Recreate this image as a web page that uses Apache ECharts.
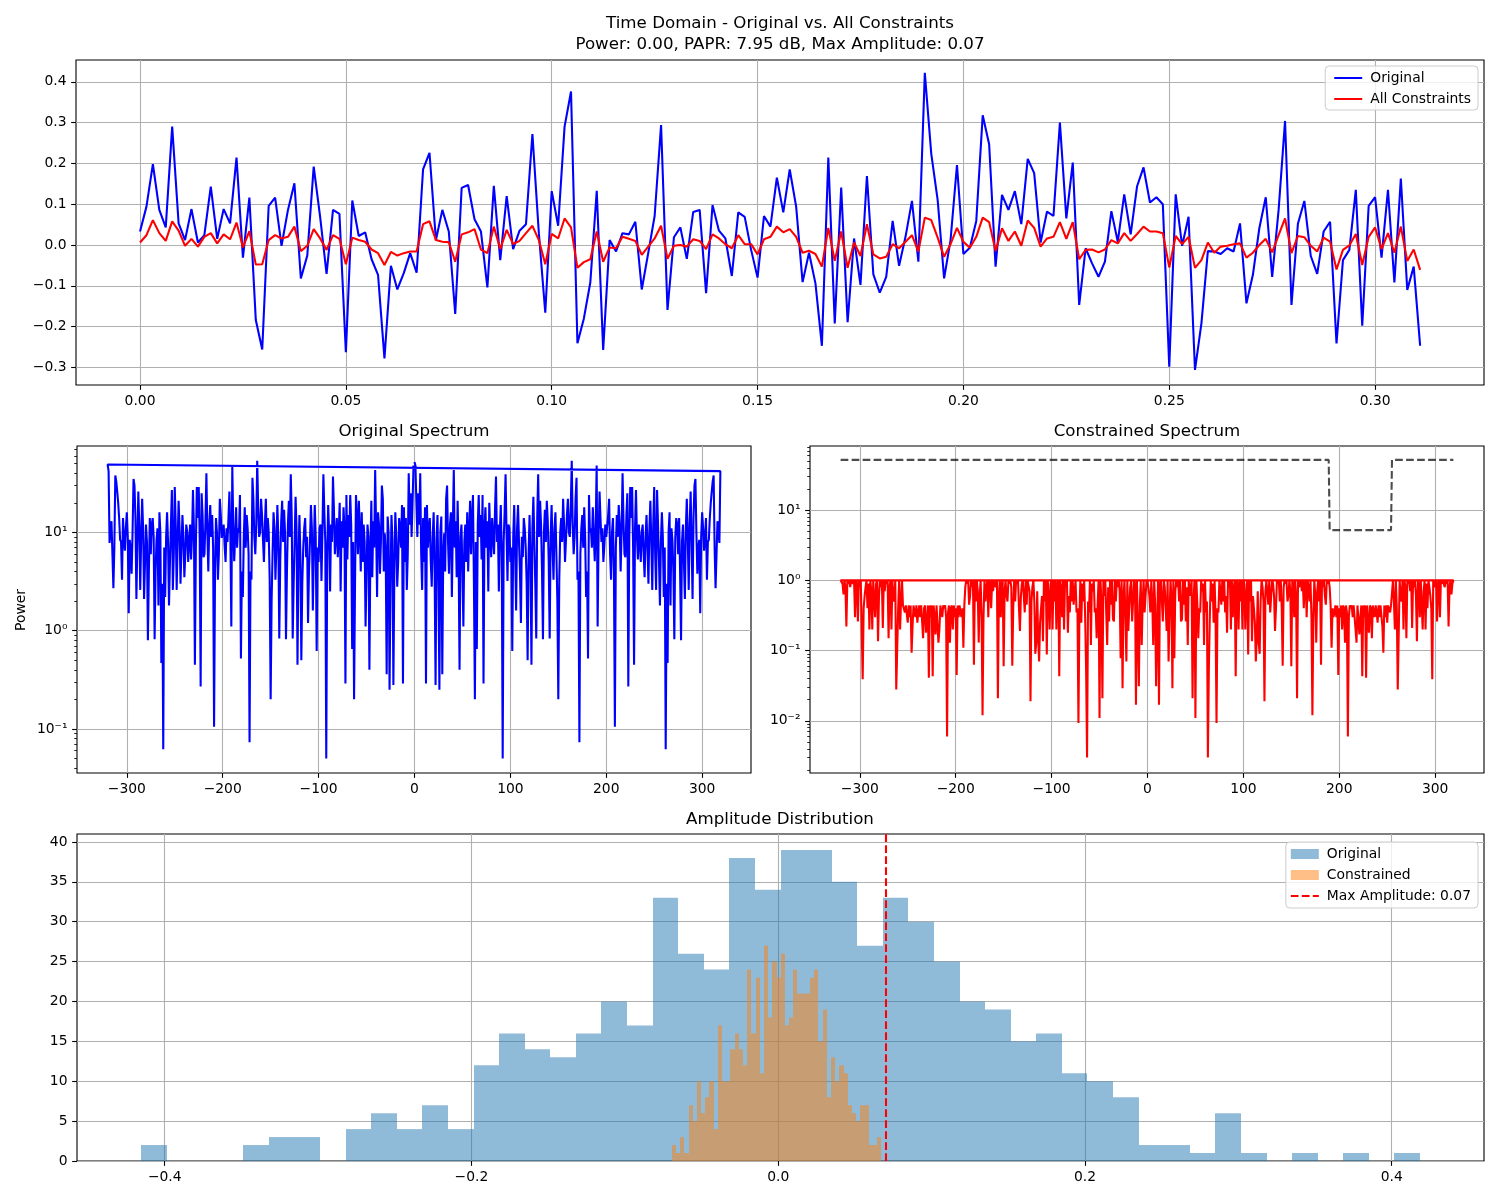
<!DOCTYPE html>
<html><head><meta charset="utf-8">
<script src="https://cdn.jsdelivr.net/npm/echarts@6/dist/echarts.min.js"></script>
<style>html,body{margin:0;padding:0;background:#fff}#c{width:1500px;height:1200px}</style>
</head><body><div id="c"></div>
<script>
// ---------------- data ----------------
const SAMPLE_RATE = 640;
const timeOriginal = [
0.033,0.094,0.198,0.086,0.043,0.290,0.053,0.012,0.088,0.006,
0.024,0.143,0.015,0.088,0.053,0.214,-0.031,0.116,-0.184,-0.256,
0.096,0.116,-0.002,0.086,0.151,-0.082,-0.026,0.192,0.069,-0.071,
0.086,0.076,-0.263,0.109,0.022,0.031,-0.035,-0.073,-0.278,-0.051,
-0.109,-0.069,-0.020,-0.068,0.185,0.226,0.012,0.086,0.033,-0.169,
0.140,0.147,0.063,0.033,-0.104,0.145,-0.037,0.120,-0.010,0.035,
0.051,0.272,0.029,-0.166,0.132,0.047,0.290,0.376,-0.241,-0.180,
-0.092,0.133,-0.257,0.012,-0.016,0.029,0.026,0.057,-0.109,-0.020,
0.071,0.294,-0.159,0.019,0.043,-0.034,0.081,0.086,-0.118,0.098,
0.035,0.016,-0.076,0.080,0.069,-0.012,-0.080,0.071,0.045,0.165,
0.080,0.185,0.094,-0.091,-0.019,-0.094,-0.247,0.214,-0.192,0.141,
-0.189,0.016,-0.098,0.169,-0.072,-0.117,-0.078,0.059,-0.051,0.020,
0.108,-0.041,0.422,0.224,0.110,-0.082,0.012,0.196,-0.022,-0.007,
0.059,0.318,0.247,-0.053,0.123,0.086,0.132,0.051,0.211,0.176,
0.006,0.082,0.071,0.300,0.065,0.202,-0.147,-0.008,-0.045,-0.078,
-0.041,0.083,0.008,0.124,0.026,0.144,0.190,0.104,0.117,0.100,
-0.298,0.124,-0.002,0.069,-0.306,-0.192,-0.015,-0.016,-0.022,-0.008,
-0.016,0.053,-0.143,-0.073,0.041,0.117,-0.078,0.086,0.304,-0.147,
0.052,0.108,-0.027,-0.071,0.033,0.057,-0.241,-0.037,-0.012,0.135,
-0.198,0.096,0.117,-0.031,0.135,-0.092,0.163,-0.110,-0.053,-0.247];
const timeConstrained = [
0.006,0.024,0.061,0.029,0.010,0.058,0.035,-0.002,0.015,-0.004,
0.020,0.029,0.004,0.026,0.014,0.055,-0.006,0.034,-0.048,-0.047,
0.012,0.024,0.016,0.020,0.045,-0.015,-0.002,0.039,0.016,-0.012,
0.024,0.015,-0.047,0.018,0.012,0.008,-0.011,-0.020,-0.049,-0.017,
-0.026,-0.020,-0.016,-0.016,0.051,0.058,0.012,0.008,0.007,-0.041,
0.026,0.031,0.039,-0.011,-0.020,0.045,-0.010,0.037,0.002,0.010,
0.029,0.047,0.012,-0.047,0.027,0.016,0.065,0.043,-0.056,-0.042,
-0.035,0.033,-0.041,-0.006,-0.008,0.020,0.015,0.010,-0.024,-0.004,
0.016,0.047,-0.034,-0.002,0.000,-0.004,0.014,0.010,-0.010,0.026,
0.016,0.002,-0.008,0.024,0.002,0.002,-0.023,0.014,0.020,0.045,
0.031,0.039,0.020,-0.019,-0.014,-0.022,-0.053,0.042,-0.039,0.033,
-0.056,0.006,-0.027,0.051,-0.023,-0.033,-0.029,0.002,-0.008,0.008,
0.024,-0.016,0.067,0.061,0.018,-0.029,0.002,0.042,0.008,-0.007,
0.020,0.067,0.056,-0.015,0.041,0.010,0.033,-0.002,0.060,0.042,
-0.004,0.016,0.020,0.056,0.015,0.056,-0.035,-0.012,-0.011,-0.018,
-0.011,0.012,0.004,0.029,0.010,0.027,0.045,0.033,0.033,0.029,
-0.055,0.022,0.002,0.020,-0.056,-0.037,0.006,-0.019,-0.004,-0.002,
0.002,0.004,-0.031,-0.019,0.000,0.015,-0.018,0.024,0.065,-0.020,
0.022,0.019,-0.002,-0.016,0.018,0.008,-0.060,-0.012,-0.001,0.027,
-0.049,0.020,0.043,-0.010,0.029,-0.019,0.045,-0.039,-0.011,-0.061];
const timeTicks = [0, 0.05, 0.1, 0.15, 0.2, 0.25, 0.3];
const ampTicks = [-0.3, -0.2, -0.1, 0, 0.1, 0.2, 0.3, 0.4];

// power spectrum, bins k = 0..320 (spectrum of a real signal: P(-k) = P(k))
const specOriginalHalf = [
52,48,20,9,25,12,40,6,2.6,14,
5,18,0.29,19,7,11,14,5,2.8,9,
16,4,0.28,8.4,15,3,0.25,10,14.5,0.36,
6,9.8,4,22,30,8,3.8,12,16,2.2,
11,43,7,13,3.5,21,6,0.4,9,12,
4,1.1,8,12,5,16,4,10,21,6,
14,24,3,0.2,8,0.65,12,24,9,15,
5.3,24,0.29,11,18,7,13,2.5,20,10,
5.6,14,9,6,17,37,8,12,2.5,10,
19,6,0.05,8,16,39,10,3.2,12,11,
5,7,0.62,9,19,6,1.6,11,19,8,
4,1.2,9,5.6,14,11,7,3,0.5,6,
15,5,0.45,11,23,8,3,0.83,14,39,
9,21,12,4,0.82,10,17,8,21,13,
5,0.83,9,19,7,3.3,11,16,6,2,
0.2,3.3,10,14,8,22,12,5,8.4,15,
22,10,9,18,53.5,12,6,9,22,36,
3.3,4,0.073,6,11,15,7,18,9,2.2,
4,0.52,24,10,11,7,18,9,5.1,12,
48,1.1,9,26,14,8,11,5,7.3,12,
9,8.8,15,22,6,3.3,10,14,4,0.105,
7,15,9,19,12,4,10,40,13,6,
5.6,15,25,0.27,9,29,14,29,7,0.45,
11,27,9,5.3,12,8,5,10,12,6,
3.5,9,15,7,3,11,21,8,2.6,12,
29,6,2.6,27,12,5,1.8,8,16,9,
2.2,7,0.062,3,0.47,10,16,1.8,11,8.4,
4,0.82,9,14,12,6,14,4,0.8,8,
12,5,2.1,11,22,9,2.6,12,26,8,
2.1,14,30,35,10,3.8,7,8.4,1.5,9,
16,11,6.5,9,14,3.3,8,8.4,14,20,
26,33,38,7,2.7,6,13,10,7.8,42,
49];
const specConstrainedHalf = [
1,1,0.6,0.35,1,0.5,0.12,1,0.45,0.031,
0.2,1,0.017,0.9,1,0.5,0.26,1,0.8,0.4,
0.19,1,0.07,0.3,1,0.6,0.029,1,0.078,0.7,
1,0.8,1,0.5,1,0.26,0.28,1,0.45,1,
0.26,0.8,0.12,1,1,0.6,1,0.021,0.5,1,
0.011,1,0.45,0.15,0.4,0.35,1,0.7,0.9,0.12,
1,0.35,0.5,0.003,0.054,0.3,1,0.5,0.9,0.25,
1,0.3,0.0093,0.4,0.35,1,0.7,0.45,1,0.5,
1,0.35,0.6,0.18,1,0.8,1,0.2,1,0.3,
0.8,1,0.043,1,0.9,0.2,1,0.5,1,0.2,
1,0.9,0.2,0.6,1,0.088,1,0.5,1,0.136,
0.6,0.4,0.25,0.07,0.15,0.7,0.13,0.09,0.5,1,
0.8,0.5,0.019,0.7,1,1,0.45,1,0.35,0.6,
1,0.9,0.6,0.19,0.4,1,0.9,1,0.5,1,
0.4,0.061,0.8,1,0.9,1,0.5,0.6,1,0.7,
0.06,1,0.9,0.3,1,0.6,0.021,1,0.8,0.9,
1,0.7,1,0.4,0.9,1,0.3,1,0.8,0.5,
1,0.3,0.012,0.3,1,0.6,0.13,0.7,1,0.5,
1,0.063,1,0.8,1,0.6,0.45,1,0.9,1,
0.8,0.44,0.11,0.4,0.3,0.35,0.44,0.3,0.44,0.045,
0.4,0.3,0.44,0.2,0.44,0.4,0.13,0.44,0.35,0.006,
0.3,0.44,0.4,0.44,0.3,0.44,0.44,0.2,0.13,0.44,
0.44,0.17,0.3,0.44,0.043,0.44,0.3,0.44,0.041,0.44,
0.25,0.18,0.44,0.4,0.15,0.44,0.44,0.3,0.44,0.35,
0.25,0.44,0.3,0.44,0.44,0.22,0.093,0.44,0.3,0.44,
0.25,0.44,0.44,0.35,0.44,0.44,1,0.5,0.2,1,
0.4,0.028,0.028,1,0.6,0.5,1,0.2,1,0.8,
0.15,1,0.9,1,0.7,1,0.21,1,0.8,1,
0.6,0.136,1,0.9,0.3,1,1,0.2,0.7,1,
0.2,0.9,0.4,1,0.8,0.6,0.4,0.039,1,1,
0.8,1,0.26,0.9,1,0.3,1,0.9,1,1,
0.8,1,0.9,1,0.22,0.8,1,0.63,0.9,1,
1];
const maskFreq  = [-320, 189, 190, 254, 255, 319];
const maskLevel = [52, 52, 5.2, 5.2, 52, 52];
const freqTicks = [-300, -200, -100, 0, 100, 200, 300];
const logTicksLeft = [0.1, 1, 10];
const logTicksRight = [0.01, 0.1, 1, 10];
const minorTicksLeft = [0.04,0.05,0.06,0.07,0.08,0.09,0.2,0.3,0.4,0.5,0.6,0.7,0.8,0.9,2,3,4,5,6,7,8,9,20,30,40,50,60,70];
const minorTicksRight = [0.002,0.003,0.004,0.005,0.006,0.007,0.008,0.009,0.02,0.03,0.04,0.05,0.06,0.07,0.08,0.09,0.2,0.3,0.4,0.5,0.6,0.7,0.8,0.9,2,3,4,5,6,7,8,9,20,30,40,50,60,70,80];

// amplitude histograms (50 bins each)
const histOriginalRange = [-0.4155, 0.4185];
const histOriginalCounts = [2,0,0,0,2,3,3,0,4,6,4,7,4,12,16,14,13,16,20,17,33,26,24,38,34,39,39,35,27,33,30,25,20,19,15,16,11,10,8,2,2,1,6,1,0,1,0,1,0,1];
const histConstrainedRange = [-0.0694, 0.0672];
const histConstrainedCounts = [2,1,3,1,7,5,10,6,8,10,4,17,10,10,14,16,14,12,24,16,23,11,27,18,25,23,26,17,18,24,21,21,21,23,24,15,19,8,13,10,12,11,7,6,5,7,7,2,2,3];
const maxAmplitude = 0.0714;
const histXTicks = [-0.4, -0.2, 0, 0.2, 0.4];
const histYTicks = [0, 5, 10, 15, 20, 25, 30, 35, 40];

// ---------------- helpers ----------------
const FONT = 'DejaVu Sans';
const FS = 13.89, TFS = 16.67;
const LW = 2.08;
const DASH = [7.7, 3.3];
const neg = s => s.replace('-', '\u2212');
const supMap = {'-':'\u207B','0':'\u2070','1':'\u00B9','2':'\u00B2','3':'\u00B3'};
const logFmt = v => '10' + String(Math.round(Math.log10(v))).split('').map(c => supMap[c]).join('');

function fftOrder(half) {
  const out = [];
  for (let k = 0; k < 320; k++) out.push([k, half[k]]);
  for (let k = -320; k < 0; k++) out.push([k, half[-k]]);
  return out;
}
function histBins(counts, range) {
  const w = (range[1] - range[0]) / counts.length;
  return counts.map((c, i) => [range[0] + i * w, range[0] + (i + 1) * w, c]);
}
function axis(gridIndex, type, min, max, ticks, fmt) {
  const a = {
    gridIndex, type, min, max,
    axisLine: {show: false, onZero: false},
    axisTick: {show: true, length: 4.86, lineStyle: {color: '#000', width: 1.1}, customValues: ticks},
    axisLabel: {show: true, customValues: ticks, formatter: fmt, color: '#000',
      fontFamily: FONT, fontSize: FS, margin: 9.5, hideOverlap: false},
    splitLine: {show: true, lineStyle: {color: '#b0b0b0', width: 1.1}},
    minorTick: {show: false}, minorSplitLine: {show: false}
  };
  if (type === 'log') a.logBase = 10;
  return a;
}
function minorAxis(gridIndex, min, max, ticks) {
  return {gridIndex, type: 'log', logBase: 10, min, max, position: 'left',
    axisLine: {show: false, onZero: false}, axisLabel: {show: false},
    splitLine: {show: false},
    axisTick: {show: true, length: 2.78, lineStyle: {color: '#000', width: 0.83}, customValues: ticks}};
}
function histRender(color) {
  return function (params, api) {
    const a = api.coord([api.value(0), 0]);
    const b = api.coord([api.value(1), api.value(2)]);
    const x0 = Math.round(a[0]), x1 = Math.round(b[0]);
    return {type: 'rect', shape: {x: x0, y: b[1], width: x1 - x0, height: a[1] - b[1]},
      style: {fill: color}};
  };
}
const gridBox = {show: true, borderColor: '#000', borderWidth: 1.1, backgroundColor: 'transparent'};
const textEl = (x, y, text, size, rot) => ({type: 'text', x, y, rotation: rot || 0, silent: true,
  style: {text, fill: '#000', font: size + 'px "' + FONT + '"', align: 'center', verticalAlign: 'middle',
    textAlign: 'center', textVerticalAlign: 'middle'}});

const HBLUE = 'rgba(31,119,180,0.5)';
const HORANGE = 'rgba(255,127,14,0.5)';
const noSymbol = {opacity: 0};

const option = {
  animation: false,
  backgroundColor: '#fff',
  textStyle: {fontFamily: FONT},
  grid: [
    Object.assign({left: 76, right: 16, top: 60, height: 325}, gridBox),
    Object.assign({left: 77, width: 674, top: 446, height: 327}, gridBox),
    Object.assign({left: 810, width: 674, top: 446, height: 327}, gridBox),
    Object.assign({left: 77, right: 16, top: 834, height: 327}, gridBox)
  ],
  xAxis: [
    axis(0, 'value', -0.01555, 0.32645, timeTicks, v => v.toFixed(2)),
    axis(1, 'value', -351.95, 350.95, freqTicks, v => neg(String(v))),
    axis(2, 'value', -351.95, 350.95, freqTicks, v => neg(String(v))),
    axis(3, 'value', -0.4572, 0.4602, histXTicks, v => neg(v.toFixed(1)))
  ],
  yAxis: [
    axis(0, 'value', -0.3431, 0.4533, ampTicks, v => neg(v.toFixed(1))),
    axis(1, 'log', 0.0356, 75.7, logTicksLeft, logFmt),
    axis(2, 'log', 0.001807, 82.0, logTicksRight, logFmt),
    axis(3, 'value', 0, 41, histYTicks, v => String(v)),
    minorAxis(1, 0.0356, 75.7, minorTicksLeft),
    minorAxis(2, 0.001807, 82.0, minorTicksRight)
  ],
  legend: [
    {orient: 'vertical', right: 22, top: 66, selectedMode: false,
     itemWidth: 28, itemHeight: 14, itemGap: 7, padding: [5, 7, 4, 8],
     backgroundColor: 'rgba(255,255,255,0.8)', borderColor: '#cccccc', borderWidth: 1, borderRadius: 4,
     textStyle: {fontFamily: FONT, fontSize: FS, color: '#000', lineHeight: 14, padding: [0, 0, 0, 3]},
     data: [{name: 'Original', itemStyle: noSymbol}, {name: 'All Constraints', itemStyle: noSymbol}]},
    {orient: 'vertical', right: 22, top: 842, selectedMode: false,
     itemWidth: 28, itemHeight: 10, itemGap: 7, padding: [5, 7, 5, 4],
     backgroundColor: 'rgba(255,255,255,0.8)', borderColor: '#cccccc', borderWidth: 1, borderRadius: 4,
     textStyle: {fontFamily: FONT, fontSize: FS, color: '#000', lineHeight: 14, padding: [0, 0, 0, 3]},
     formatter: n => n.trim(),
     data: [{name: 'Original ', icon: 'rect'}, {name: 'Constrained', icon: 'rect'},
            {name: 'Max Amplitude: 0.07', itemStyle: noSymbol}]}
  ],
  graphic: [
    textEl(780, 24, 'Time Domain - Original vs. All Constraints', TFS),
    textEl(780, 45, 'Power: 0.00, PAPR: 7.95 dB, Max Amplitude: 0.07', TFS),
    textEl(414, 432, 'Original Spectrum', TFS),
    textEl(1147, 432, 'Constrained Spectrum', TFS),
    textEl(780, 820, 'Amplitude Distribution', TFS),
    textEl(21, 610, 'Power', FS, Math.PI / 2)
  ],
  series: [
    {type: 'line', name: 'Original', xAxisIndex: 0, yAxisIndex: 0, symbol: 'none',
     data: timeOriginal.map((v, i) => [i / SAMPLE_RATE, v]),
     color: '#0000ff', lineStyle: {color: '#0000ff', width: LW}},
    {type: 'line', name: 'All Constraints', xAxisIndex: 0, yAxisIndex: 0, symbol: 'none',
     data: timeConstrained.map((v, i) => [i / SAMPLE_RATE, v]),
     color: '#ff0000', lineStyle: {color: '#ff0000', width: LW}},
    {type: 'line', name: 'Original spectrum', xAxisIndex: 1, yAxisIndex: 1, symbol: 'none',
     data: fftOrder(specOriginalHalf), color: '#0000ff', lineStyle: {color: '#0000ff', width: LW}},
    {type: 'line', name: 'Constrained spectrum', xAxisIndex: 2, yAxisIndex: 2, symbol: 'none',
     data: fftOrder(specConstrainedHalf), color: '#ff0000', lineStyle: {color: '#ff0000', width: LW}},
    {type: 'line', name: 'Spectral mask', xAxisIndex: 2, yAxisIndex: 2, symbol: 'none',
     data: maskFreq.map((f, i) => [f, maskLevel[i]]),
     color: 'rgba(0,0,0,0.7)', lineStyle: {color: 'rgba(0,0,0,0.7)', width: LW, type: DASH}},
    {type: 'custom', name: 'Original ', xAxisIndex: 3, yAxisIndex: 3,
     data: histBins(histOriginalCounts, histOriginalRange), encode: {x: [0, 1], y: 2},
     itemStyle: {color: HBLUE}, color: HBLUE, renderItem: histRender(HBLUE)},
    {type: 'custom', name: 'Constrained', xAxisIndex: 3, yAxisIndex: 3,
     data: histBins(histConstrainedCounts, histConstrainedRange), encode: {x: [0, 1], y: 2},
     itemStyle: {color: HORANGE}, color: HORANGE, renderItem: histRender(HORANGE)},
    {type: 'line', name: 'Max Amplitude: 0.07', xAxisIndex: 3, yAxisIndex: 3, symbol: 'none', data: [],
     color: '#ff0000', lineStyle: {color: '#ff0000', width: LW, type: DASH},
     markLine: {symbol: 'none', silent: true, label: {show: false},
       lineStyle: {color: '#ff0000', width: LW, type: DASH}, data: [{xAxis: maxAmplitude}]}}
  ]
};
const chart = echarts.init(document.getElementById('c'), null, {renderer: 'canvas'});
chart.setOption(option);
</script></body></html>
